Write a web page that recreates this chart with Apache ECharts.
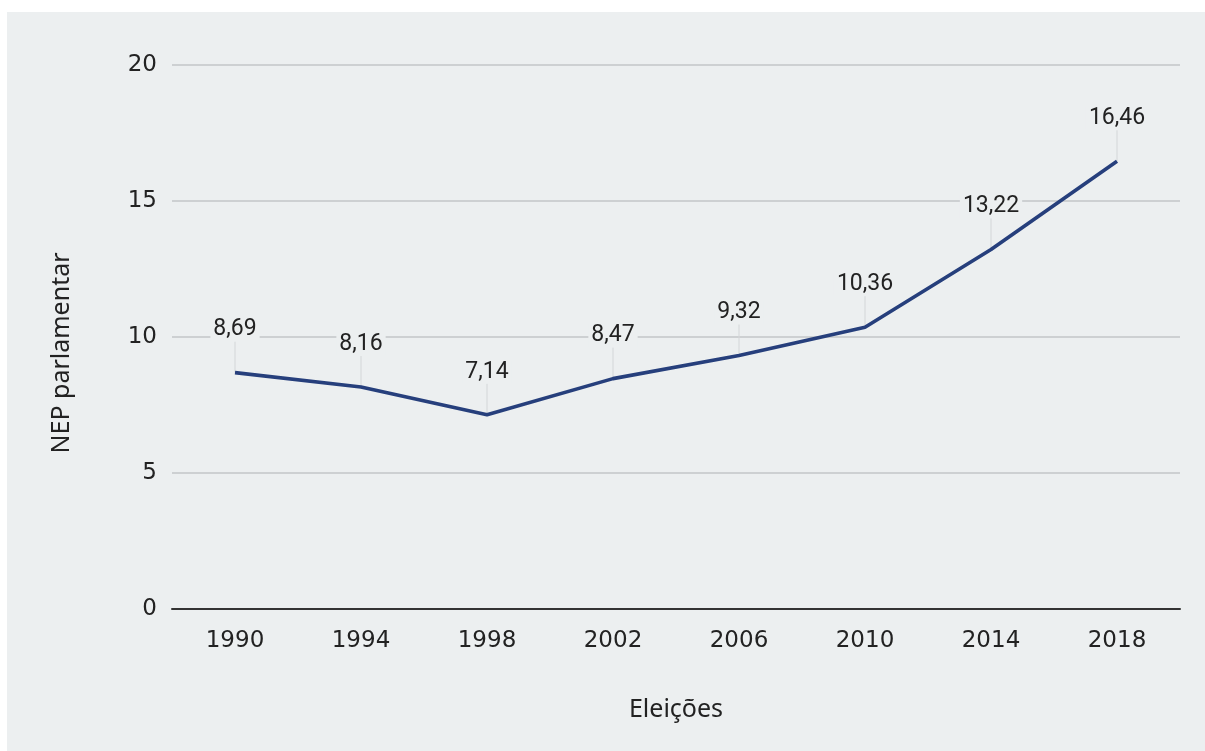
<!DOCTYPE html>
<html>
<head>
<meta charset="utf-8">
<script src="https://cdn.jsdelivr.net/npm/echarts@6/dist/echarts.min.js"></script>
<style>
  html, body { margin: 0; padding: 0; background: #ffffff; }
  #panel { position: absolute; left: 7px; top: 12px; width: 1198px; height: 739px; background: #eceff0; }
  #chart { position: absolute; left: -7px; top: -12px; width: 1205px; height: 751px; }
</style>
</head>
<body>
<div id="panel"><div id="chart"></div></div>
<script>
// Effective number of parliamentary parties per election
const elections = ['1990', '1994', '1998', '2002', '2006', '2010', '2014', '2018'];
const nepValues = [8.69, 8.16, 7.14, 8.47, 9.32, 10.36, 13.22, 16.46];
const yTicks = [0, 5, 10, 15, 20];

const panelColor = '#eceff0';
const fmt = v => v.toFixed(2).replace('.', ',');

const chart = echarts.init(document.getElementById('chart'));
chart.setOption({
  backgroundColor: 'transparent',
  animation: false,
  grid: { left: 172, right: 25, top: 65, bottom: 142 },
  xAxis: {
    type: 'category',
    data: elections,
    boundaryGap: true,
    name: 'Eleições',
    nameLocation: 'middle',
    nameGap: 88,
    nameTextStyle: { fontFamily: 'Noto Sans', fontSize: 25, color: '#222' },
    axisLine: { show: true, lineStyle: { color: '#333', width: 2 } },
    axisTick: { show: false },
    axisLabel: { fontFamily: 'DejaVu Sans', fontSize: 23, color: '#222', margin: 21 }
  },
  yAxis: {
    type: 'value',
    min: yTicks[0],
    max: yTicks[yTicks.length - 1],
    interval: 5,
    name: 'NEP parlamentar',
    nameLocation: 'middle',
    nameGap: 98,
    nameRotate: 90,
    nameTextStyle: { fontFamily: 'Noto Sans', fontSize: 25, color: '#222', padding: [0, 32, 0, 0] },
    axisLine: { show: false },
    axisTick: { show: false },
    axisLabel: { fontFamily: 'DejaVu Sans', fontSize: 23, color: '#222', margin: 15, padding: [3, 0, 0, 0] },
    splitLine: { lineStyle: { color: '#c3c6c8', width: 1.5 } }
  },
  series: [
    {
      // thin guide lines from each point up to its value label
      type: 'custom',
      z: 1,
      silent: true,
      data: nepValues.map((v, i) => [i, v]),
      renderItem: function (params, api) {
        const p = api.coord([api.value(0), api.value(1)]);
        return {
          type: 'line',
          shape: { x1: p[0], y1: p[1], x2: p[0], y2: p[1] - 31 },
          style: { stroke: '#d3d6d8', lineWidth: 1 }
        };
      }
    },
    {
      type: 'line',
      z: 3,
      data: nepValues,
      symbol: 'circle',
      symbolSize: 1,
      showSymbol: true,
      itemStyle: { color: 'rgba(0,0,0,0)' },
      lineStyle: { color: '#263f7c', width: 3.6 },
      label: {
        show: true,
        position: 'top',
        distance: 31,
        formatter: p => fmt(p.value),
        fontFamily: 'Roboto',
        fontSize: 23,
        color: '#222',
        backgroundColor: panelColor,
        padding: [0, 3, 0, 3]
      }
    }
  ]
});
</script>
</body>
</html>
